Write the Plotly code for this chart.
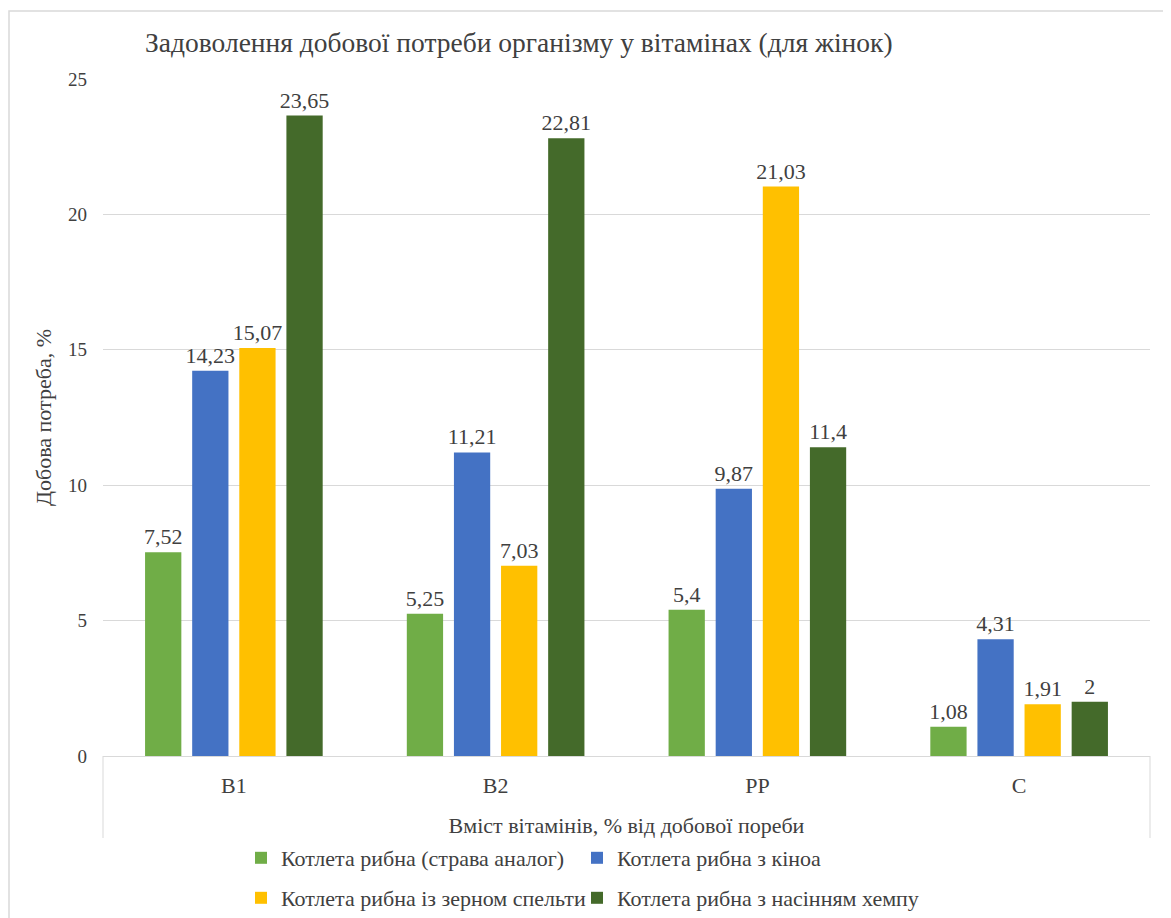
import plotly.graph_objects as go

categories = ["B1", "B2", "PP", "C"]
series_names = [
    "Котлета рибна (страва аналог)",
    "Котлета рибна з кіноа",
    "Котлета рибна із зерном спельти",
    "Котлета рибна з насінням хемпу",
]
analog = [7.52, 5.25, 5.4, 1.08]
quinoa = [14.23, 11.21, 9.87, 4.31]
spelt = [15.07, 7.03, 21.03, 1.91]
hemp = [23.65, 22.81, 11.4, 2]
colors = ["#70AD47", "#4472C4", "#FFC000", "#446A2A"]

FONT = "Liberation Serif"
TXT = "#404040"

# page body offsets the plot by 8px; work in reference (screen) pixel coords
O = 8
W, H = 1171, 935
ml, mr, mt = 103 - O, 29, 79 - O
mb = H - (756 - O)
pw = W - ml - mr
ph = H - mt - mb


def px_x(p):
    return (p - O - ml) / pw


def px_y(p):
    return (H - mb - (p - O)) / ph


fig = go.Figure()
legends = ["legend", "legend2", "legend3", "legend4"]
for name, vals, col, lg in zip(series_names, [analog, quinoa, spelt, hemp], colors, legends):
    fig.add_trace(go.Bar(
        x=categories, y=vals, name=name, marker_color=col, marker_line_width=0,
        text=[f"{v:g}".replace(".", ",") for v in vals],
        textposition="outside", cliponaxis=False, constraintext="none",
        textfont=dict(family=FONT, size=22, color=TXT),
        legend=lg,
    ))

leg_common = dict(
    orientation="h", xanchor="left", yanchor="middle",
    font=dict(family=FONT, size=22, color=TXT),
    itemwidth=30, bgcolor="rgba(0,0,0,0)",
)
col_x = [241, 577]
row_y = [858, 898]

fig.update_layout(
    width=W, height=H,
    margin=dict(l=ml, r=mr, t=mt, b=mb),
    paper_bgcolor="white", plot_bgcolor="white",
    barmode="group", bargap=0.28, bargroupgap=0.23,
    font=dict(family=FONT, color=TXT, size=22),
    title=dict(
        text="Задоволення добової потреби організму у вітамінах (для жінок)",
        x=(145 - O) / W, xanchor="left", y=1 - (42 - O) / H, yanchor="middle",
        font=dict(family=FONT, size=27.5, color=TXT),
    ),
    showlegend=True,
    legend=dict(x=px_x(col_x[0]), y=px_y(row_y[0]), **leg_common),
    legend2=dict(x=px_x(col_x[1]), y=px_y(row_y[0]), **leg_common),
    legend3=dict(x=px_x(col_x[0]), y=px_y(row_y[1]), **leg_common),
    legend4=dict(x=px_x(col_x[1]), y=px_y(row_y[1]), **leg_common),
    xaxis=dict(
        showgrid=False, showline=True, linecolor="#d9d9d9", linewidth=1,
        ticks="", tickfont=dict(family=FONT, size=22, color=TXT),
        ticklabelstandoff=10,
        title=dict(text="Вміст вітамінів, % від добової пореби", standoff=20,
                   font=dict(family=FONT, size=22, color=TXT)),
    ),
    yaxis=dict(
        range=[0, 25], dtick=5, showgrid=True, gridcolor="#d9d9d9", gridwidth=1,
        zeroline=False, showline=False, ticks="",
        tickfont=dict(family=FONT, size=19, color=TXT),
        ticklabelstandoff=15,
        title=dict(text="Добова потреба, %", standoff=10,
                   font=dict(family=FONT, size=22, color=TXT)),
    ),
)

# category axis box side lines
for xp in [0, 1]:
    fig.add_shape(type="line", xref="paper", yref="paper",
                  x0=xp, x1=xp, y0=0, y1=px_y(838),
                  line=dict(color="#d9d9d9", width=1))
# outer chart frame
fig.add_shape(type="rect", xref="paper", yref="paper",
              x0=px_x(9), x1=px_x(1166), y0=px_y(930), y1=px_y(11),
              line=dict(color="#d9d9d9", width=1.5), fillcolor="rgba(0,0,0,0)", layer="below")

fig.write_html("out.html")
